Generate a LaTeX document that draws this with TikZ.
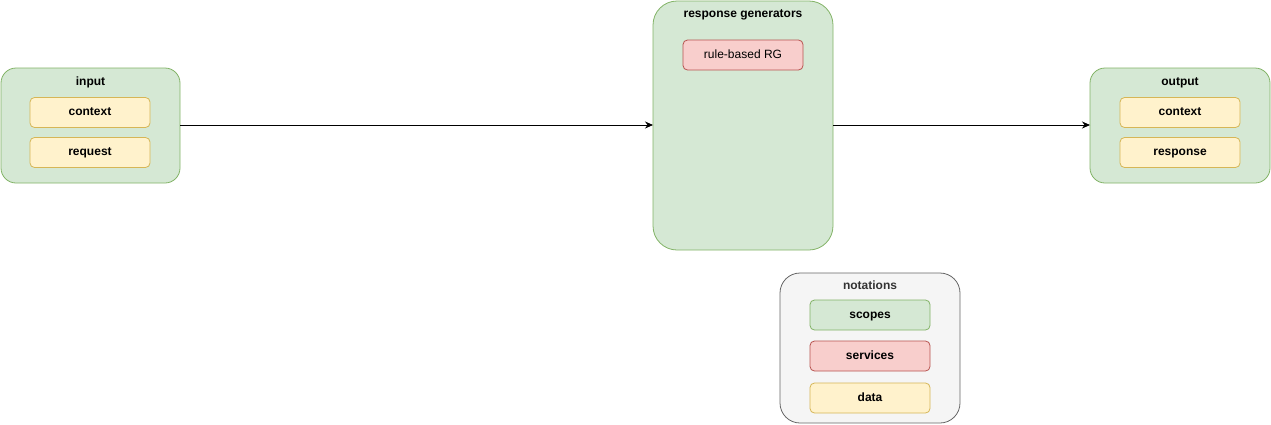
\documentclass[tikz,border=0pt]{standalone}
\usepackage{fontspec}
\setmainfont{Liberation Sans}
\usetikzlibrary{arrows.meta}
\definecolor{gfill}{HTML}{D5E8D4}\definecolor{gdraw}{HTML}{82B366}
\definecolor{yfill}{HTML}{FFF2CC}\definecolor{ydraw}{HTML}{D6B656}
\definecolor{rfill}{HTML}{F8CECC}\definecolor{rdraw}{HTML}{B85450}
\definecolor{nfill}{HTML}{F5F5F5}\definecolor{ndraw}{HTML}{666666}
\definecolor{ntext}{HTML}{333333}
\tikzset{
  scopebox/.style={draw=gdraw,fill=gfill,line width=0.8pt},
  greybox/.style={draw=ndraw,fill=nfill,line width=0.8pt},
  itembox/.style={line width=0.8pt,rounded corners=4.5pt,minimum width=120pt,minimum height=30pt,inner sep=0pt,text height=9pt,text depth=2.5pt,font=\fontsize{12}{14}\selectfont\bfseries},
  databox/.style={itembox,draw=ydraw,fill=yfill},
  servbox/.style={itembox,draw=rdraw,fill=rfill},
  greenitem/.style={itembox,draw=gdraw,fill=gfill},
  titletext/.style={inner sep=0pt,text height=9pt,text depth=2.5pt,font=\fontsize{12}{14}\selectfont\bfseries},
  conn/.style={line width=0.8pt,-{Stealth[length=8pt,width=7pt]}}
}
\begin{document}
\begin{tikzpicture}[x=1pt,y=-1pt]
\useasboundingbox (0,0) rectangle (1271,424);
% input
\path[scopebox,rounded corners=15pt] (1,68) rectangle (180,183);
\coordinate (inE) at (180,125);
\node[titletext] (intitle) at (90.5,82) {input};
\node[databox] (incontext) at (90,112.5) {context};
\node[databox] (inrequest) at (90,152.5) {request};
% response generators
\path[scopebox,rounded corners=24pt] (653,1) rectangle (833,250);
\coordinate (rgW) at (653,125);
\coordinate (rgE) at (833,125);
\node[titletext] (rgtitle) at (743,14) {response generators};
\node[servbox,font=\fontsize{12}{14}\selectfont] (rulerg) at (743,55) {rule-based RG};
% output
\path[scopebox,rounded corners=15pt] (1090,68) rectangle (1270,183);
\coordinate (outW) at (1090,125);
\node[titletext] (outtitle) at (1180,82) {output};
\node[databox] (outcontext) at (1180,112.5) {context};
\node[databox] (outresponse) at (1180,152.5) {response};
% notations
\path[greybox,rounded corners=20pt] (780,273) rectangle (960,423);
\node[titletext,text=ntext] (nottitle) at (870,286.5) {notations};
\node[greenitem] (scopes) at (870,315) {scopes};
\node[servbox] (services) at (870,356) {services};
\node[databox] (data) at (870,398) {data};
% connectors
\draw[conn] (inE) -- (rgW);
\draw[conn] (rgE) -- (outW);
\end{tikzpicture}
\end{document}
